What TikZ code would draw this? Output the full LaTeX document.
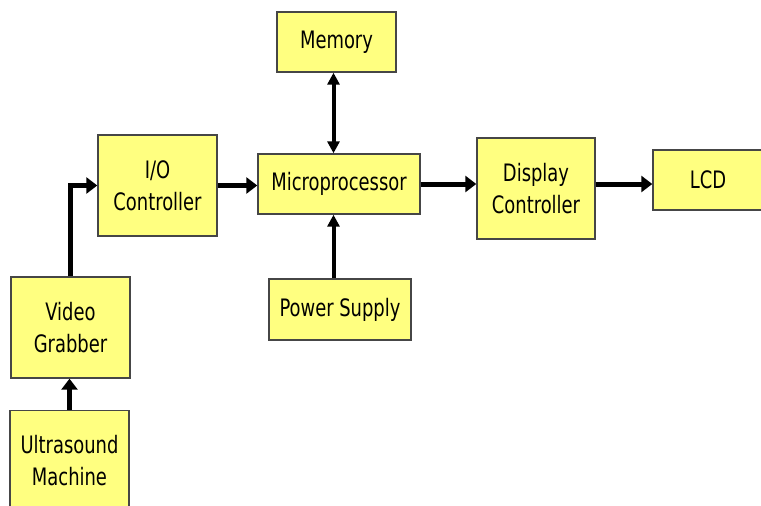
\documentclass[tikz,border=0pt]{standalone}
\usepackage{fontspec}
\usetikzlibrary{arrows.meta,calc}
\newfontfamily\boxfont{DejaVu Sans Condensed}[FakeStretch=0.83]
\definecolor{boxyellow}{RGB}{255,255,128}
\definecolor{boxedge}{RGB}{70,70,70}

\begin{document}
\begin{tikzpicture}[x=1pt, y=-1pt,
    block/.style={draw=boxedge, line width=1.4pt, fill=boxyellow, align=center,
        inner sep=0pt, font={\boxfont\fontsize{24}{32}\selectfont}},
    flow/.style={line width=5pt, -{Triangle[length=11pt, width=16pt]}},
    link/.style={line width=4pt, {Triangle[length=12pt, width=12pt]}-{Triangle[length=12pt, width=12pt]}}]
    \useasboundingbox (0,0) rectangle (761,506);
    \clip (0,0) rectangle (761,506);

    \node[block, minimum width=119pt, minimum height=60pt] (mem) at (336.5,42) {Memory};
    \node[block, minimum width=119pt, minimum height=101pt] (io) at (157.5,185.5) {I/O\\Controller};
    \node[block, minimum width=162pt, minimum height=60pt] (cpu) at (339,184) {Microprocessor};
    \node[block, minimum width=118pt, minimum height=101pt] (disp) at (536,188.5) {Display\\Controller};
    \node[block, minimum width=110pt, minimum height=60pt] (lcd) at (708,180) {LCD};
    \node[block, minimum width=142pt, minimum height=61pt] (psu) at (340,309.5) {Power Supply};
    \node[block, minimum width=119pt, minimum height=101pt] (vgrab) at (70.5,327.5) {Video\\Grabber};
    \node[block, minimum width=119pt, minimum height=100pt] (usm) at (69.5,460.5) {Ultrasound\\Machine};

    % bus line through memory, cpu and power supply
    \coordinate (bus) at ($(mem.south)+(-3,0)$);

    \draw[flow] (usm.north) -- (usm.north |- vgrab.south);
    \draw[flow] (vgrab.north) |- (io.west);
    \draw[flow] (io.east) -- (io.east -| cpu.west);
    \draw[flow] (cpu.east) -- (cpu.east -| disp.west);
    \draw[flow] (cpu.east -| disp.east) -- (cpu.east -| lcd.west);
    \draw[link] (bus) -- (bus |- cpu.north);
    \draw[line width=4pt, -{Triangle[length=12pt, width=12pt]}] (bus |- psu.north) -- (bus |- cpu.south);

\end{tikzpicture}
\end{document}
